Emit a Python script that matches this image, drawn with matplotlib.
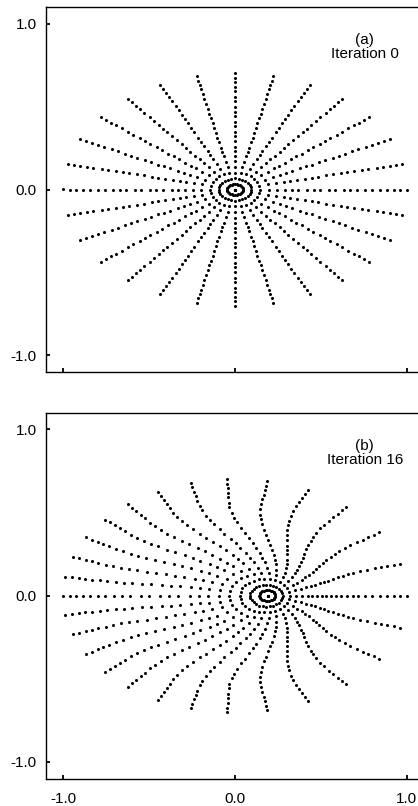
import numpy as np
import matplotlib
matplotlib.use("Agg")
import matplotlib.pyplot as plt

plt.rcParams['font.family'] = ['Liberation Sans', 'DejaVu Sans']

# radial positions of the grid rings (fraction of the outer boundary)
radii = [0.0, 0.046, 0.095, 0.145, 0.195, 0.243, 0.292, 0.331, 0.369, 0.418,
         0.457, 0.496, 0.545, 0.584, 0.632, 0.671, 0.710, 0.758, 0.797, 0.845,
         0.884, 0.923, 0.962, 1.0]
# ray directions (parametric angle on the ellipse, degrees), iteration 0
ray_angles_a = [0.0, 12.9, 25.7, 38.6, 51.4, 64.3, 77.1, 90.0, 102.9, 115.7,
                128.6, 141.4, 154.3, 167.1, 180.0, 192.9, 205.7, 218.6, 231.4,
                244.3, 257.1, 270.0, 282.9, 295.7, 308.6, 321.4, 334.3, 347.1]
# boundary end-point angles after 16 iterations (upper half, mirrored below)
boundary_angles_b_upper = [0.0, 16.0, 32.9, 49.7, 65.0, 79.1, 92.7, 105.0,
                           116.7, 128.4, 139.2, 150.0, 160.5, 170.6, 180.0]
boundary_angles_b = boundary_angles_b_upper + [360.0 - a for a in boundary_angles_b_upper[-2:0:-1]]
center_b = (0.19, 0.0)
ellipse_ratio = 0.7
blend_reach = 0.8

tick_vals = [-1.0, 0.0, 1.0]
tick_labels = ["-1.0", "0.0", "1.0"]
panel_titles = ["(a)\nIteration 0", "(b)\nIteration 16"]


def grid_a():
    r = np.asarray(radii)[None, :]
    phi = np.deg2rad(np.asarray(ray_angles_a))[:, None]
    return r * np.cos(phi), ellipse_ratio * r * np.sin(phi)


def grid_b():
    r = np.asarray(radii)[None, :]
    phi = np.deg2rad(np.asarray(ray_angles_a))[:, None]
    psi = np.deg2rad(np.asarray(boundary_angles_b))[:, None]
    t = np.clip(r / blend_reach, 0, 1)
    s = 3 * t**2 - 2 * t**3
    xin = center_b[0] + r * np.cos(phi)
    yin = center_b[1] + ellipse_ratio * r * np.sin(phi)
    xout = r * np.cos(psi)
    yout = ellipse_ratio * r * np.sin(psi)
    return (1 - s) * xin + s * xout, (1 - s) * yin + s * yout


W, H = 418, 806
fig = plt.figure(figsize=(W / 100, H / 100), dpi=100)

ax_a = fig.add_axes([46 / W, 1 - 372 / H, 378 / W, 365 / H])
ax_b = fig.add_axes([46 / W, 1 - 778.6 / H, 378 / W, 366 / H])

for ax, (gx, gy), title, show_x in [(ax_a, grid_a(), panel_titles[0], False),
                                   (ax_b, grid_b(), panel_titles[1], True)]:
    ax.plot(gx.ravel(), gy.ravel(), linestyle='none', marker='o',
            markersize=2.2, color='black', markeredgewidth=0)
    ax.set_xlim(-1.1, 1.1)
    ax.set_ylim(-1.1, 1.1)
    ax.set_xticks(tick_vals)
    ax.set_yticks(tick_vals)
    ax.set_yticklabels(tick_labels)
    if show_x:
        ax.set_xticklabels(tick_labels)
    else:
        ax.set_xticklabels([])
    ax.tick_params(axis='both', direction='in', length=3, width=1.3,
                   labelsize=11, colors='black')
    ax.tick_params(axis='y', pad=6.5)
    ax.tick_params(axis='x', pad=10)
    for sp in ax.spines.values():
        sp.set_linewidth(1.0)
        sp.set_color('black')
    ax.text(0.755, 0.86, title, ha='center', va='center', fontsize=11,
            linespacing=1.0)

fig.savefig("out.png", dpi=100)
